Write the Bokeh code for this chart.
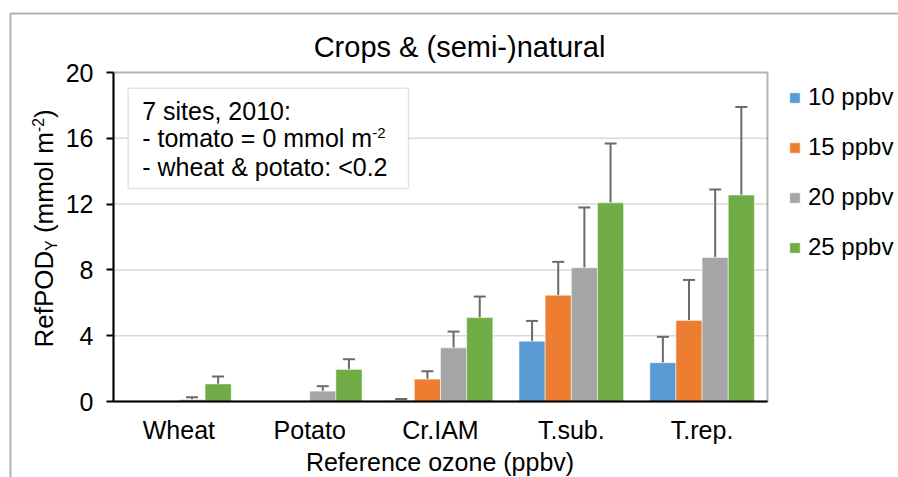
import math
from bokeh.plotting import figure
from bokeh.models import (ColumnDataSource, Range1d, Whisker, TeeHead, Label,
                          BoxAnnotation, Legend, LegendItem, FixedTicker)
from bokeh.transform import dodge
from bokeh.embed import file_html
from bokeh.resources import INLINE

# ---------------- data ----------------
categories = ["Wheat", "Potato", "Cr.IAM", "T.sub.", "T.rep."]
series = ["10 ppbv", "15 ppbv", "20 ppbv", "25 ppbv"]
v10 = [0.0, 0.0, 0.05, 3.67, 2.36]
v15 = [0.0, 0.03, 1.36, 6.46, 4.93]
v20 = [0.12, 0.63, 3.26, 8.13, 8.76]
v25 = [1.07, 1.95, 5.10, 12.08, 12.55]
e10 = [0.0, 0.0, 0.10, 1.23, 1.57]
e15 = [0.0, 0.0, 0.48, 2.03, 2.46]
e20 = [0.14, 0.30, 0.99, 3.66, 4.13]
e25 = [0.45, 0.62, 1.28, 3.60, 5.35]
y_ticks = [0, 4, 8, 12, 16, 20]
colors = ["#5B9BD5", "#ED7D31", "#A5A5A5", "#70AD47"]
offsets = [-0.3, -0.1, 0.1, 0.3]

FONT = "Liberation Sans"

# ---------------- layout (pixels on the canvas) ----------------
W, H = 898, 477
PA_L, PA_R, PA_T, PA_B = 113, 767, 72, 401   # plot-area edges on canvas
ncat = len(categories)
ymax = y_ticks[-1]
px_cat = (PA_R - PA_L) / ncat
px_y = (PA_B - PA_T) / ymax
x_range = Range1d(-PA_L / px_cat, ncat + (W - PA_R) / px_cat)
y_range = Range1d(-(H - PA_B) / px_y, ymax + PA_T / px_y)

p = figure(x_range=x_range, y_range=y_range, width=W, height=H,
           output_backend="svg", toolbar_location=None,
           min_border=0, min_border_left=0, min_border_right=0,
           min_border_top=0, min_border_bottom=0)
p.title.visible = False
p.outline_line_color = None
p.background_fill_color = "white"
p.border_fill_color = "white"
p.xgrid.visible = False
p.ygrid.visible = False

xc = [i + 0.5 for i in range(ncat)]

# grid lines inside plot area
p.segment(x0=[0] * (len(y_ticks) - 2), x1=[ncat] * (len(y_ticks) - 2),
          y0=y_ticks[1:-1], y1=y_ticks[1:-1], line_color="#d9d9d9",
          line_width=1.5, level="underlay")

src = ColumnDataSource(data=dict(xc=xc, cat=categories, v10=v10, v15=v15, v20=v20, v25=v25))
vals = [v10, v15, v20, v25]
errs = [e10, e15, e20, e25]
keys = ["v10", "v15", "v20", "v25"]

items = []
for k, col, off, name, vv, ee in zip(keys, colors, offsets, series, vals, errs):
    r = p.vbar(x=dodge("xc", off), top=k, width=0.2, source=src,
               fill_color=col, line_color="white", line_width=1, line_alpha=0.5)
    items.append(LegendItem(label=name, renderers=[r]))
    xs_e = [x for x, e in zip(xc, ee) if e > 0]
    low_e = [v for v, e in zip(vv, ee) if e > 0]
    up_e = [v + e for v, e in zip(vv, ee) if e > 0]
    wsrc = ColumnDataSource(data=dict(xc=xs_e, low=low_e, up=up_e))
    w = Whisker(base=dodge("xc", off), lower="low", upper="up",
                source=wsrc, dimension="height", line_color="#6a6a6a", line_width=2,
                upper_head=TeeHead(size=12, line_color="#6a6a6a", line_width=2),
                lower_head=None)
    p.add_layout(w)

# plot-area outline
p.add_layout(BoxAnnotation(left=0, right=ncat, bottom=0, top=ymax,
                           fill_alpha=0, line_color="black", line_width=2))

# axes fixed at the plot-area edges
p.yaxis.fixed_location = 0
p.yaxis.bounds = (0, ymax)
p.yaxis.ticker = FixedTicker(ticks=y_ticks)
p.yaxis.axis_line_width = 2
p.yaxis.axis_line_color = "black"
p.yaxis.major_tick_out = 7
p.yaxis.major_tick_in = 0
p.yaxis.major_tick_line_width = 2
p.yaxis.minor_tick_line_color = None
p.yaxis.major_label_standoff = 13
p.yaxis.major_label_text_font = FONT
p.yaxis.major_label_text_font_size = "25px"
p.yaxis.major_label_text_color = "black"

p.xaxis.fixed_location = 0
p.xaxis.bounds = (0, ncat)
p.xaxis.ticker = FixedTicker(ticks=xc)
p.xaxis.major_label_overrides = {x: c for x, c in zip(xc, categories)}
p.xaxis.axis_line_width = 2
p.xaxis.axis_line_color = "black"
p.xaxis.major_tick_line_color = None
p.xaxis.major_tick_out = 0
p.xaxis.major_tick_in = 0
p.xaxis.minor_tick_line_color = None
p.xaxis.major_label_standoff = 14
p.xaxis.major_label_text_font = FONT
p.xaxis.major_label_text_font_size = "25px"
p.xaxis.major_label_text_color = "black"

# legend
legend = Legend(items=items, location=(788, H - 261), orientation="vertical",
                border_line_color=None, background_fill_alpha=0,
                padding=0, margin=0, spacing=22, glyph_width=13, glyph_height=13,
                label_standoff=7, label_text_font=FONT, label_text_font_size="24px",
                label_height=28, label_text_color="black")
p.add_layout(legend)

K = 0.36  # observed shift of the drawn baseline below the anchor, in em

def lab(text, x, y_base, size, align="left"):
    """horizontal text; x, y_base = canvas pixels of the wanted baseline"""
    p.add_layout(Label(text=text, x=x, y=H - (y_base - K * size),
                       x_units="screen", y_units="screen",
                       text_font=FONT, text_font_size=f"{size}px", text_color="black",
                       text_align=align, text_baseline="alphabetic"))

def vlab(text, x_base, y_start, size):
    """text rotated 90 deg, reading upward; x_base = canvas x of the baseline"""
    p.add_layout(Label(text=text, x=x_base - K * size, y=H - y_start,
                       x_units="screen", y_units="screen",
                       text_font=FONT, text_font_size=f"{size}px", text_color="black",
                       text_align="left", text_baseline="alphabetic", angle=math.pi / 2))

# outer chart border
p.add_layout(BoxAnnotation(left=10, right=3000, bottom=-500, top=H - 13,
                           left_units="screen", right_units="screen",
                           bottom_units="screen", top_units="screen",
                           fill_alpha=0, line_color="black", line_width=2))

# title
lab("Crops & (semi-)natural", 459, 56.7, 29, align="center")

# x axis label
lab("Reference ozone (ppbv)", 439.5, 470.5, 25, align="center")

# y axis label (rotated, composed pieces)
ys = 347
vlab("RefPOD", 53, ys, 26)
vlab("Y", 57, ys - 96.8, 15.6)
vlab("(mmol m", 53, ys - 114.4, 26)
vlab("-2", 43, ys - 215.5, 15.6)
vlab(")", 53, ys - 229.4, 26)

# annotation box
p.add_layout(BoxAnnotation(left=127.7, right=408, bottom=H - 188, top=H - 87.7,
                           left_units="screen", right_units="screen",
                           bottom_units="screen", top_units="screen",
                           fill_color="white", fill_alpha=1.0,
                           line_color="#a6a6a6", line_width=1.5))
lab("7 sites, 2010:", 141.7, 119, 25)
lab("- tomato = 0 mmol m", 141.7, 146.7, 25)
lab("-2", 371.7, 137.7, 15)
lab("- wheat & potato: <0.2", 141.7, 175, 25)

open("out.html", "w").write(file_html(p, INLINE))
